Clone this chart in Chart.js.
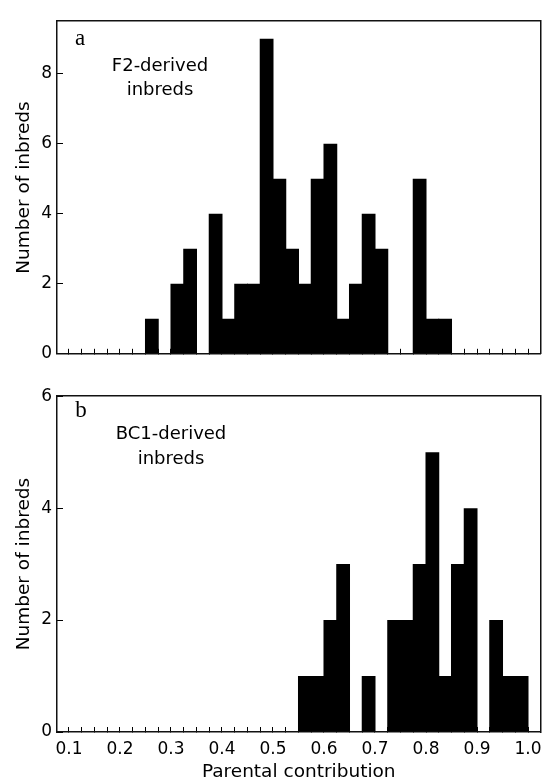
<!DOCTYPE html>
<html><head><meta charset="utf-8">
<script src="https://cdn.jsdelivr.net/npm/chart.js@4/dist/chart.umd.min.js"></script>
<style>
html,body{margin:0;padding:0;background:#fff;}
body{width:557px;height:783px;position:relative;overflow:hidden;}
canvas{position:absolute;left:0;}
#c1{top:0;} #c2{top:375px;}
.lab{position:absolute;transform:translate(-50%,-50%);white-space:nowrap;color:#000;}
.panel{font-family:"Liberation Serif","Times New Roman",serif;font-size:23px;line-height:26px;}
.note{font-family:"DejaVu Sans",sans-serif;font-size:18px;text-align:center;}
</style></head><body>
<canvas id="c1" width="557" height="375"></canvas>
<canvas id="c2" width="557" height="408"></canvas>
<div class="lab panel" style="left:80px;top:38px">a</div>
<div class="lab note" style="left:160px;top:77px;line-height:24px">F2-derived<br>inbreds</div>
<div class="lab panel" style="left:81px;top:410px">b</div>
<div class="lab note" style="left:171px;top:445px;line-height:25px">BC1-derived<br>inbreds</div>
<script>
// ---- data ----
const binWidth = 0.025;
const f2BinStarts = [0.25, 0.275, 0.3, 0.325, 0.35, 0.375, 0.4, 0.425, 0.45, 0.475, 0.5, 0.525,
                     0.55, 0.575, 0.6, 0.625, 0.65, 0.675, 0.7, 0.725, 0.75, 0.775, 0.8, 0.825];
const f2Counts    = [1, 0, 2, 3, 0, 4, 1, 2, 2, 9, 5, 3,
                     2, 5, 6, 1, 2, 4, 3, 0, 0, 5, 1, 1];
const bc1BinStarts = [0.55, 0.575, 0.6, 0.625, 0.65, 0.675, 0.7, 0.725, 0.75,
                      0.775, 0.8, 0.825, 0.85, 0.875, 0.9, 0.925, 0.95, 0.975];
const bc1Counts    = [1, 1, 2, 3, 0, 1, 0, 2, 2,
                      3, 5, 1, 3, 4, 0, 2, 1, 1];
const xTickValues = [0.1, 0.125, 0.15, 0.175, 0.2, 0.225, 0.25, 0.275, 0.3, 0.325, 0.35, 0.375,
                     0.4, 0.425, 0.45, 0.475, 0.5, 0.525, 0.55, 0.575, 0.6, 0.625, 0.65, 0.675,
                     0.7, 0.725, 0.75, 0.775, 0.8, 0.825, 0.85, 0.875, 0.9, 0.925, 0.95, 0.975, 1.0];
const xMajorValues = [0.1, 0.2, 0.3, 0.4, 0.5, 0.6, 0.7, 0.8, 0.9, 1.0];
const xTickLabels  = ['0.1', '0.2', '0.3', '0.4', '0.5', '0.6', '0.7', '0.8', '0.9', '1.0'];
const yTicksTop = [0, 2, 4, 6, 8];
const yTicksBottom = [0, 2, 4, 6];

// ---- chart ----
const FONT = '"DejaVu Sans", sans-serif';
const X_MIN = 0.0765, X_MAX = 1.0245;
function labelFor(v, show) {
  if (!show) return '';
  const i = xMajorValues.findIndex(m => Math.abs(m - v) < 1e-6);
  return i >= 0 ? xTickLabels[i] : '';
}
function histogram(id, starts, counts, yMax, yTicks, withLabels, padTop, xAxisHeight) {
  const data = starts.map((s, i) => ({x: s + binWidth / 2, y: counts[i]}));
  const frame = {display: true, color: '#111', width: 1.5};
  return new Chart(document.getElementById(id), {
    type: 'bar',
    data: {datasets: [{data, backgroundColor: '#000', borderWidth: 0, inflateAmount: 0,
                       barPercentage: 1.08, categoryPercentage: 1, grouped: false}]},
    options: {
      responsive: false, animation: false, devicePixelRatio: 1,
      layout: {padding: {top: padTop, right: 16.5, bottom: 0, left: 0}},
      plugins: {legend: {display: false}, tooltip: {enabled: false}, title: {display: false}},
      scales: {
        x: {
          type: 'linear', position: 'bottom', min: X_MIN, max: X_MAX, offset: false,
          grid: {drawOnChartArea: false, drawTicks: true, tickLength: -5, color: '#000', lineWidth: 1, offset: false},
          border: frame,
          afterBuildTicks: s => { s.ticks = xTickValues.map(v => ({value: v})); },
          afterFit: s => { s.height = xAxisHeight; },
          ticks: {autoSkip: false, maxRotation: 0, minRotation: 0, padding: 12, color: '#000',
                  font: {family: FONT, size: 17},
                  callback: (v) => labelFor(v, withLabels)},
          title: withLabels
            ? {display: true, text: 'Parental contribution', color: '#000',
               font: {family: FONT, size: 18.5}, padding: {top: 0, bottom: 0}}
            : {display: false}
        },
        y: {
          type: 'linear', position: 'left', min: 0, max: yMax,
          grid: {drawOnChartArea: false, drawTicks: true, tickLength: -6, color: '#000', lineWidth: 1},
          border: frame,
          afterBuildTicks: s => { s.ticks = yTicks.map(v => ({value: v})); },
          afterFit: s => { s.width = 57; },
          ticks: {padding: 11, color: '#000', font: {family: FONT, size: 17}},
          title: {display: true, text: 'Number of inbreds', color: '#000',
                  font: {family: FONT, size: 18.5}, padding: {top: 13, bottom: 0}}
        },
        xTop: {
          type: 'linear', position: 'top', min: 0, max: 1,
          ticks: {display: false}, grid: {display: false, drawTicks: false},
          border: frame, afterFit: s => { s.height = 0; }
        },
        yRight: {
          type: 'linear', position: 'right', min: 0, max: 1,
          ticks: {display: false}, grid: {display: false, drawTicks: false},
          border: frame, afterFit: s => { s.width = 0; }
        }
      }
    }
  });
}
histogram('c1', f2BinStarts, f2Counts, 9.5, yTicksTop, false, 16.7, 13);
histogram('c2', bc1BinStarts, bc1Counts, 6, yTicksBottom, true, 12, 51);
</script>
</body></html>
